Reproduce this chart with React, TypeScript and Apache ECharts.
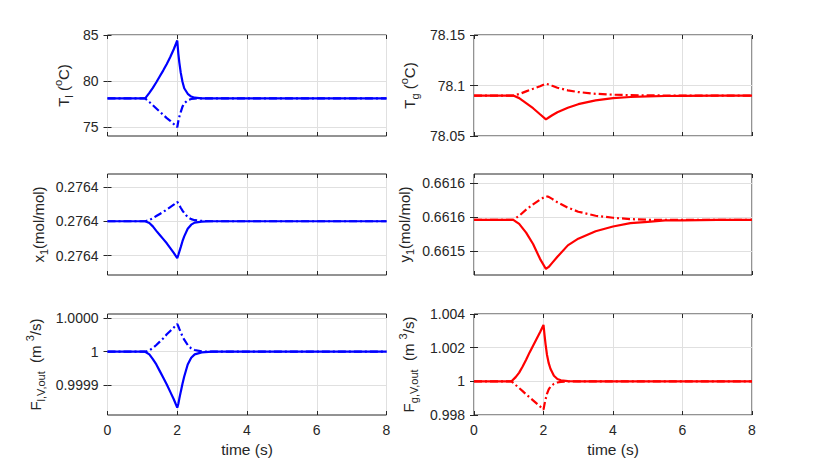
import React, { useEffect, useRef } from "react";
import * as echarts from "echarts";

// time grids (s)
const timeFast = [0, 1.08, 1.2, 1.3, 1.4, 1.5, 1.6, 1.7, 1.8, 1.9, 2.0, 2.03, 2.06, 2.1, 2.15, 2.2, 2.3, 2.4, 2.5, 2.7, 3.0, 4.0, 6.0, 8.0];
const timeSlow = [0, 1.13, 1.3, 1.5, 1.7, 1.9, 2.07, 2.15, 2.25, 2.4, 2.7, 3.0, 3.5, 4.0, 4.5, 5.0, 5.5, 6.0, 7.0, 8.0];

// T_l (°C)
const tlSolid = [78.09, 78.09, 78.7, 79.25, 79.85, 80.5, 81.15, 81.85, 82.6, 83.45, 84.4, 83.0, 82.0, 80.9, 79.9, 79.2, 78.6, 78.3, 78.17, 78.1, 78.09, 78.09, 78.09, 78.09];
const tlDash = [78.09, 78.09, 77.7, 77.35, 77.0, 76.65, 76.3, 75.95, 75.65, 75.3, 74.95, 75.6, 76.1, 76.6, 77.2, 77.55, 77.9, 78.03, 78.08, 78.09, 78.09, 78.09, 78.09, 78.09];
// T_g (°C)
const tgSolid = [78.09, 78.09, 78.0875, 78.0825, 78.0775, 78.0715, 78.0665, 78.0683, 78.0705, 78.0735, 78.078, 78.0815, 78.0853, 78.0875, 78.0886, 78.0893, 78.0896, 78.0898, 78.0899, 78.09];
const tgDash = [78.09, 78.09, 78.0915, 78.0942, 78.0967, 78.0993, 78.1017, 78.101, 78.0997, 78.0978, 78.0952, 78.0935, 78.0918, 78.0909, 78.0904, 78.0902, 78.0901, 78.09, 78.09, 78.09];
// x_1 (mol/mol)
const x1Solid = [0.2764, 0.2764, 0.2763995, 0.2763985, 0.2763972, 0.276396, 0.2763948, 0.2763936, 0.2763922, 0.2763908, 0.2763893, 0.2763902, 0.2763912, 0.2763925, 0.2763942, 0.2763956, 0.2763978, 0.276399, 0.2763996, 0.2763999, 0.2764, 0.2764, 0.2764, 0.2764];
const x1Dash = [0.2764, 0.2764, 0.2764003, 0.2764009, 0.2764015, 0.2764021, 0.2764027, 0.2764034, 0.2764041, 0.2764048, 0.2764056, 0.2764052, 0.2764046, 0.2764039, 0.2764031, 0.2764024, 0.2764012, 0.2764006, 0.2764003, 0.2764001, 0.2764, 0.2764, 0.2764, 0.2764];
// y_1 (mol/mol)
const y1Solid = [0.661546, 0.661546, 0.66154, 0.661527, 0.66151, 0.661488, 0.661473, 0.661476, 0.661482, 0.661491, 0.661508, 0.661518, 0.661529, 0.661536, 0.661541, 0.661543, 0.661545, 0.661545, 0.661546, 0.661546];
const y1Dash = [0.661546, 0.661546, 0.661552, 0.661561, 0.661569, 0.661576, 0.661581, 0.66158, 0.661577, 0.661572, 0.661564, 0.661558, 0.661552, 0.661549, 0.661547, 0.661546, 0.661546, 0.661546, 0.661546, 0.661546];
// F_l,V,out (m3/s)
const flSolid = [1, 1, 0.999996, 0.999989, 0.999981, 0.999971, 0.999961, 0.999951, 0.99994, 0.999929, 0.9999164, 0.999922, 0.99993, 0.99994, 0.999952, 0.999963, 0.999981, 0.999991, 0.999996, 0.999999, 1, 1, 1, 1];
const flDash = [1, 1, 1.000002, 1.0000055, 1.00001, 1.000015, 1.00002, 1.000026, 1.000031, 1.000036, 1.0000413, 1.000038, 1.000034, 1.000029, 1.000023, 1.000018, 1.00001, 1.000005, 1.0000025, 1.0000005, 1, 1, 1, 1];
// F_g,V,out (m3/s)
const fgSolid = [1, 1, 1.00025, 1.00052, 1.00088, 1.00128, 1.00172, 1.00212, 1.00252, 1.00292, 1.00335, 1.00275, 1.0022, 1.00158, 1.00108, 1.00075, 1.00033, 1.00014, 1.00006, 1.00001, 1, 1, 1, 1];
const fgDash = [1, 1, 0.99978, 0.9996, 0.99942, 0.99923, 0.99905, 0.99887, 0.99869, 0.99851, 0.99832, 0.99865, 0.99893, 0.99925, 0.99952, 0.99968, 0.99985, 0.99993, 0.99997, 0.99999, 1, 1, 1, 1];

// y axis ticks and their labels
const tlTicks = [75, 80, 85];
const tlLabels = ["75", "80", "85"];
const tgTicks = [78.05, 78.1, 78.15];
const tgLabels = ["78.05", "78.1", "78.15"];
const x1Ticks = [0.27639, 0.2764, 0.27641];
const x1Labels = ["0.2764", "0.2764", "0.2764"];
const y1Ticks = [0.6615, 0.66155, 0.6616];
const y1Labels = ["0.6615", "0.6616", "0.6616"];
const flTicks = [0.99995, 1, 1.00005];
const flLabels = ["0.9999", "1", "1.0000"];
const fgTicks = [0.998, 1, 1.002, 1.004];
const fgLabels = ["0.998", "1", "1.002", "1.004"];

const FONT = "'Liberation Sans', Arial, Helvetica, sans-serif";
const INK = "#262626";
const GRIDC = "#e0e0e0";
const BLUE = "#0000ff";
const RED = "#ff0000";

const rich = {
  m: { fontSize: 15, fontFamily: FONT, fill: INK, color: INK, lineHeight: 22, verticalAlign: "middle" },
  s: { fontSize: 11, fontFamily: FONT, fill: INK, color: INK, lineHeight: 11, verticalAlign: "bottom" },
  p: { fontSize: 11, fontFamily: FONT, fill: INK, color: INK, lineHeight: 11, verticalAlign: "top" },
};

const LEFT_COL = 107.5;
const RIGHT_COL = 474;
const ROWS = [35, 174, 314];
const H = 101;

const panels = [
  { left: LEFT_COL, width: 279, top: ROWS[0], time: timeFast, solid: tlSolid, dash: tlDash, color: BLUE, min: 74, max: 85, ticks: tlTicks, labels: tlLabels, name: "{m|T}{s|l}{m| (}{p|o}{m|C)}", nameX: 63, showX: false },
  { left: RIGHT_COL, width: 278, top: ROWS[0], time: timeSlow, solid: tgSolid, dash: tgDash, color: RED, min: 78.05, max: 78.15, ticks: tgTicks, labels: tgLabels, name: "{m|T}{s|g}{m| (}{p|o}{m|C)}", nameX: 409, showX: false },
  { left: LEFT_COL, width: 279, top: ROWS[1], time: timeFast, solid: x1Solid, dash: x1Dash, color: BLUE, min: 0.2763844, max: 0.2764137, ticks: x1Ticks, labels: x1Labels, name: "{m|x}{s|1}{m|(mol/mol)}", nameX: 38, showX: false },
  { left: RIGHT_COL, width: 278, top: ROWS[1], time: timeSlow, solid: y1Solid, dash: y1Dash, color: RED, min: 0.661464, max: 0.661614, ticks: y1Ticks, labels: y1Labels, name: "{m|y}{s|1}{m|(mol/mol)}", nameX: 404, showX: false },
  { left: LEFT_COL, width: 279, top: ROWS[2], time: timeFast, solid: flSolid, dash: flDash, color: BLUE, min: 0.9999055, max: 1.0000563, ticks: flTicks, labels: flLabels, name: "{m|F}{s|l,V,out}{m|  (m }{p|3}{m|/s)}", nameX: 35.5, showX: true },
  { left: RIGHT_COL, width: 278, top: ROWS[2], time: timeFast, solid: fgSolid, dash: fgDash, color: RED, min: 0.998, max: 1.004, ticks: fgTicks, labels: fgLabels, name: "{m|F}{s|g,V,out}{m|  (m }{p|3}{m|/s)}", nameX: 408, showX: true },
];

function labelFor(ticks: number[], labels: string[]) {
  return (v: number) => {
    for (let j = 0; j < ticks.length; j++) {
      if (Math.abs(ticks[j] - v) < 1e-9) return labels[j];
    }
    return "";
  };
}

function buildOption() {
  const grid: any[] = [];
  const xAxis: any[] = [];
  const yAxis: any[] = [];
  const series: any[] = [];
  const graphic: any[] = [];
  panels.forEach((p, i) => {
    grid.push({ left: p.left, top: p.top, width: p.width, height: H, show: true, borderColor: INK, borderWidth: 1, backgroundColor: "#ffffff" });
    const tickStyle = { show: true, inside: true, length: 4, lineStyle: { color: INK, width: 1 } };
    xAxis.push({
      type: "value", gridIndex: i, min: 0, max: 8, interval: 2, position: "bottom",
      axisLine: { show: false },
      axisTick: tickStyle,
      axisLabel: { show: p.showX, color: INK, fontSize: 14, fontFamily: FONT, margin: 8 },
      splitLine: { show: true, lineStyle: { color: GRIDC, width: 1 } },
      name: p.showX ? "time (s)" : "",
      nameLocation: "middle", nameGap: 26,
      nameTextStyle: { color: INK, fontSize: 15.5, fontFamily: FONT },
    });
    xAxis.push({
      type: "value", gridIndex: i, min: 0, max: 8, interval: 2, position: "top",
      axisLine: { show: false }, axisTick: tickStyle, axisLabel: { show: false }, splitLine: { show: false },
    });
    yAxis.push({
      type: "value", gridIndex: i, min: p.min, max: p.max, position: "left",
      axisLine: { show: false },
      axisTick: { ...tickStyle, customValues: p.ticks },
      axisLabel: { show: true, customValues: p.ticks, formatter: labelFor(p.ticks, p.labels), color: INK, fontSize: 14, fontFamily: FONT, margin: 9 },
      splitLine: { show: true, lineStyle: { color: GRIDC, width: 1 } },
    });
    yAxis.push({
      type: "value", gridIndex: i, min: p.min, max: p.max, position: "right",
      axisLine: { show: false },
      axisTick: { ...tickStyle, customValues: p.ticks },
      axisLabel: { show: false, customValues: p.ticks },
      splitLine: { show: false },
    });
    graphic.push({
      type: "text", x: p.nameX, y: p.top + H / 2, rotation: Math.PI / 2,
      style: { text: p.name, rich, align: "center", verticalAlign: "middle", fill: INK, font: "15px " + FONT },
    });
    const mk = (vals: number[], dashed: boolean) => ({
      type: "line", xAxisIndex: 2 * i, yAxisIndex: 2 * i,
      data: p.time.map((t, k) => [t, vals[k]]),
      showSymbol: false, symbol: "none", clip: true,
      lineStyle: { color: p.color, width: 2.2, type: dashed ? [8, 3, 2, 3] : "solid" },
      z: dashed ? 3 : 4,
    });
    series.push(mk(p.dash, true));
    series.push(mk(p.solid, false));
  });
  return { animation: false, backgroundColor: "#ffffff", grid, xAxis, yAxis, series, graphic };
}

export default function App() {
  const ref = useRef<HTMLDivElement>(null);
  useEffect(() => {
    if (!ref.current) return;
    const chart = echarts.init(ref.current, undefined, { renderer: "svg" });
    chart.setOption(buildOption() as any);
    return () => chart.dispose();
  }, []);
  return <div ref={ref} style={{ position: "absolute", left: 0, top: 0, width: 830, height: 466 }} />;
}
